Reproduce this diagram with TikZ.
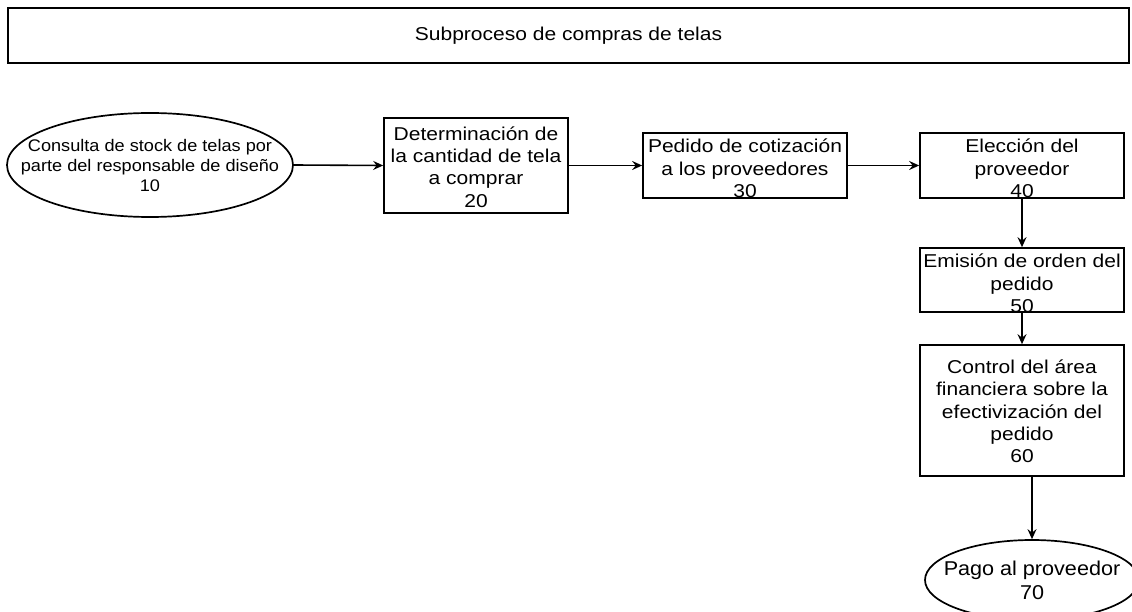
\documentclass[tikz,border=0pt]{standalone}
\usepackage{fontspec}
\setmainfont{Liberation Sans}[FakeStretch=1.13]
\newfontfamily\ellfont{Liberation Sans}[FakeStretch=1.08]
\usetikzlibrary{shapes.geometric,arrows.meta}
\begin{document}
\begin{tikzpicture}[x=1pt,y=-1pt,
  line width=1.7pt,
  boxstyle/.style={draw=black,rectangle,inner sep=0pt},
  ovalstyle/.style={draw=black,ellipse,inner sep=0pt},
  txt/.style={inner sep=0pt,align=center,font=\fontsize{18.6}{22.3}\selectfont},
  arr/.style={-{Stealth[length=10pt,width=9pt,inset=3.5pt]},line width=1.6pt}]
\useasboundingbox (0,0) rectangle (1132,612);
\fill[white] (0,0) rectangle (1132,612);
% title
\node[boxstyle,minimum width=1121pt,minimum height=55pt] (title) at (568.5,35.5) {};
\node[txt] (titlet) at (568.5,36) {Subproceso de compras de telas};
% 10
\node[ovalstyle,minimum width=286pt,minimum height=104pt] (e10) at (150,165) {};
\node[txt,font=\ellfont\fontsize{16.8}{20}\selectfont] (e10t) at (150,165)
  {Consulta de stock de telas por\\parte del responsable de diseño\\10};
% 20
\node[boxstyle,minimum width=184pt,minimum height=95pt] (b20) at (476,165.5) {};
\node[txt] (b20t) at (476,167)
  {Determinación de\\la cantidad de tela\\a comprar\\20};
% 30
\node[boxstyle,minimum width=204pt,minimum height=65pt] (b30) at (745,165.5) {};
\node[txt] (b30t) at (745,168.5)
  {Pedido de cotización\\a los proveedores\\30};
% 40
\node[boxstyle,minimum width=204pt,minimum height=65pt] (b40) at (1022,165.5) {};
\node[txt] (b40t) at (1022,168.5)
  {Elección del\\proveedor\\40};
% 50
\node[boxstyle,minimum width=204pt,minimum height=64pt] (b50) at (1022,280) {};
\node[txt] (b50t) at (1022,283.5)
  {Emisión de orden del\\pedido\\50};
% 60
\node[boxstyle,minimum width=204pt,minimum height=131pt] (b60) at (1022,410.5) {};
\node[txt] (b60t) at (1022,411.5)
  {Control del área\\financiera sobre la\\efectivización del\\pedido\\60};
% 70
\node[ovalstyle,minimum width=214pt,minimum height=80pt] (e70) at (1032,580) {};
\node[txt,font=\ellfont\fontsize{20}{24}\selectfont] (e70t) at (1032,580)
  {Pago al proveedor\\70};
% connectors
\draw[arr] (e10.east) -- (b20.west);
\draw[arr] (b20.east) -- (b30.west);
\draw[arr] (b30.east) -- (b40.west);
\draw[arr] (b40.south) -- (b50.north);
\draw[arr] (b50.south) -- (b60.north);
\draw[arr] (b60.south -| e70.north) -- (e70.north);
\end{tikzpicture}
\end{document}
